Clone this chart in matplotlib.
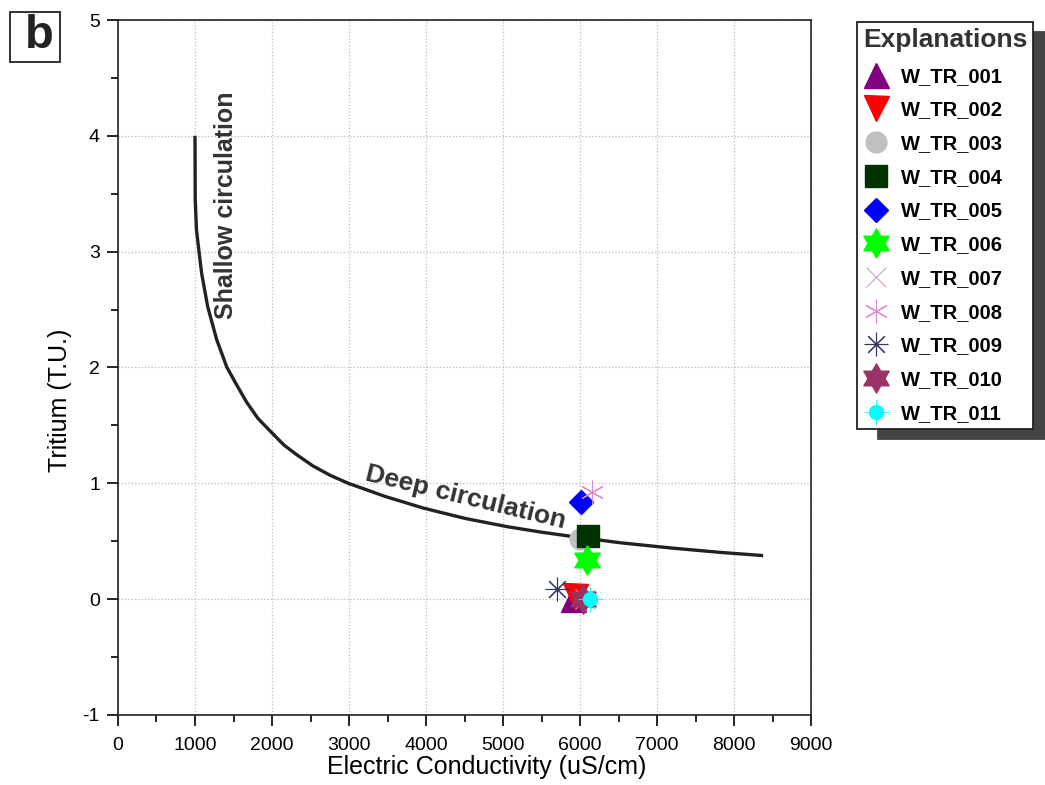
import matplotlib
matplotlib.use('Agg')
import matplotlib.pyplot as plt
from matplotlib.path import Path
from matplotlib.patches import Rectangle
import numpy as np

# boundary curve
curve_ec = [1000, 1003, 1019, 1052, 1087, 1165, 1282, 1412, 1532, 1671, 1818, 2000, 2156,
            2325, 2532, 2753, 2991, 3468, 3961, 4506, 5052, 5481, 5909, 6519, 7208, 7818, 8377]
curve_tu = [4.00, 3.45, 3.19, 3.00, 2.81, 2.525, 2.24, 2.005, 1.86, 1.70, 1.56, 1.435, 1.33,
            1.245, 1.15, 1.07, 1.00, 0.887, 0.787, 0.697, 0.626, 0.58, 0.54, 0.487, 0.44, 0.404, 0.376]

# samples
names_s = ['W_TR_001', 'W_TR_002', 'W_TR_003', 'W_TR_004', 'W_TR_005', 'W_TR_006',
           'W_TR_007', 'W_TR_008', 'W_TR_009', 'W_TR_010', 'W_TR_011']
ec = [5910, 5935, 6000, 6108, 6013, 6087, 6060, 6151, 5697, 6040, 6130]
tritium = [0.0, 0.03, 0.52, 0.544, 0.835, 0.337, 0.0, 0.927, 0.086, 0.0, 0.0]

# six-pointed star marker
ang = np.deg2rad(90 + 30 * np.arange(12))
rad = np.where(np.arange(12) % 2 == 0, 1.0, 0.577)
verts = np.column_stack([rad * np.cos(ang), rad * np.sin(ang)])
star6 = Path(np.vstack([verts, verts[:1]]), closed=True)

styles = [
    dict(marker='^', color='#800080', ms=18),
    dict(marker='v', color='#ff0000', ms=18),
    dict(marker='o', color='#c0c0c0', ms=15),
    dict(marker='s', color='#003300', ms=16),
    dict(marker='D', color='#0000ff', ms=12),
    dict(marker=star6, color='#00ff00', ms=21),
    dict(marker='x', color='#c8a0c8', ms=15, mew=0.8),
    dict(marker=(6, 2, 0), color='#dd88cc', ms=17, mew=0.8),
    dict(marker=(8, 2, 0), color='#333366', ms=17, mew=0.8),
    dict(marker=star6, color='#993366', ms=21),
    dict(marker='o', color='#00ffff', ms=10),
]

plt.rcParams['font.family'] = ['Liberation Sans', 'DejaVu Sans']
plt.rcParams['axes.unicode_minus'] = False

fig = plt.figure(figsize=(10.45, 7.85), dpi=100)
ax = fig.add_axes([0.1129, 0.0892, 0.6633, 0.8853])

ax.plot(curve_ec, curve_tu, color='#222222', lw=2.4, zorder=3,
        solid_joinstyle='round', solid_capstyle='butt')

handles = []
for i, (n, x, y, st) in enumerate(zip(names_s, ec, tritium, styles)):
    h, = ax.plot([x], [y], ls='none', marker=st['marker'], color=st['color'],
                 ms=st['ms'], mew=st.get('mew', 1.0), zorder=4 + i, label=n)
    if i == 10:
        h2, = ax.plot([x], [y], ls='none', marker='+', color=st['color'],
                      ms=18, mew=0.6, zorder=4 + i)
        handles.append((h, h2))
    else:
        handles.append(h)

ax.set_xlim(0, 9000)
ax.set_ylim(-1, 5)
ax.set_xticks(np.arange(0, 9001, 1000))
ax.set_xticks(np.arange(0, 9001, 500), minor=True)
ax.set_yticks(np.arange(-1, 5.1, 1))
ax.set_yticks(np.arange(-1, 5.1, 0.5), minor=True)
ax.yaxis.set_major_formatter(matplotlib.ticker.FormatStrFormatter('%d'))
ax.tick_params(which='major', length=8, width=1.2, direction='out', labelsize=14)
ax.tick_params(axis='x', which='major', pad=8)
ax.tick_params(axis='y', which='major', pad=5)
ax.tick_params(which='minor', length=5, width=1.2, direction='out')
ax.grid(True, which='major', ls=':', color='#bbbbbb', lw=0.9)
for sp in ax.spines.values():
    sp.set_linewidth(1.2)
    sp.set_color('#222222')

ax.set_xlabel('Electric Conductivity (uS/cm)', fontsize=18)
ax.set_ylabel('Tritium (T.U.)', fontsize=18)
ax.xaxis.set_label_coords(0.532, -0.057)
ax.yaxis.set_label_coords(-0.066, 0.453)

ax.text(1400, 3.40, 'Shallow circulation', rotation=90, fontsize=18, fontweight='bold',
        color='#333333', ha='center', va='center')
ax.text(4519, 0.876, 'Deep circulation', rotation=-13.6, fontsize=19, fontweight='bold',
        color='#333333', ha='center', va='center', rotation_mode='anchor')

# panel letter in a square box
fig.patches.append(Rectangle((10 / 1045, 723 / 785), 50 / 1045, 50 / 785,
                             transform=fig.transFigure, fc='white', ec='#333333', lw=1.4))
fig.text(39 / 1045, 1 - 36 / 785, 'b', fontsize=34, fontweight='bold', color='#222222',
         ha='center', va='center')

leg = fig.legend(handles, names_s, loc='upper left', bbox_to_anchor=(857 / 1045, 1 - 22 / 785),
                 borderaxespad=0, title='Explanations', frameon=True, fancybox=False,
                 shadow={'ox': 15, 'oy': -7, 'facecolor': '#444444', 'edgecolor': '#444444', 'alpha': 1},
                 prop={'weight': 'bold', 'size': 14.5}, alignment='left',
                 labelspacing=0.73, handletextpad=0.6, handlelength=1.3, borderpad=0.3,
                 markerscale=1.0)
leg.get_title().set_fontsize(19)
leg.get_title().set_fontweight('bold')
leg.get_title().set_color('#333333')
leg.get_frame().set_edgecolor('#222222')
leg.get_frame().set_linewidth(1.3)

fig.savefig('out.png', dpi=100)
